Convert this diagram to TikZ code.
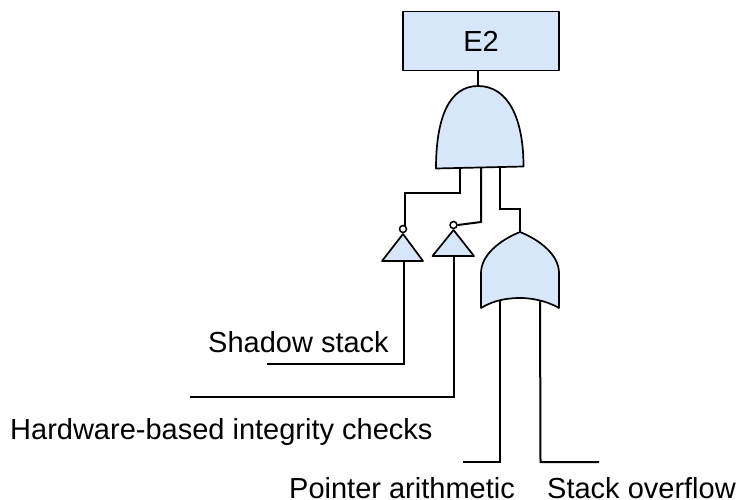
\documentclass[tikz,border=0pt]{standalone}
\usepackage{fontspec}
\setmainfont{Liberation Sans}
\definecolor{gatefill}{HTML}{D7E6FA}
\tikzset{
  gate/.style={draw=black,fill=gatefill,line width=1.7pt,line join=round},
  wire/.style={draw=black,line width=2pt},
  lbl/.style={font=\fontsize{29}{33}\selectfont,inner sep=0pt,anchor=base west,text=black},
  bubble/.style={circle,draw=black,fill=white,line width=1.5pt,minimum size=7pt,inner sep=0pt}
}
\begin{document}
\begin{tikzpicture}[x=1pt,y=-1pt]
\useasboundingbox (0,0) rectangle (738,500);
% top event
\node[gate,rectangle,minimum width=156pt,minimum height=59pt,inner sep=0pt,font=\fontsize{29}{33}\selectfont] (e2) at (481,41) {\raisebox{-1.5pt}{E2}};
% coordinates
\coordinate (andtop) at (478,86);
\coordinate (p1) at (460,167);
\coordinate (p2) at (481,167);
\coordinate (p3) at (500,167);
\coordinate (ortop) at (520,232);
\coordinate (ora) at (500,298);
\coordinate (orb) at (540,298);
\coordinate (ea) at (463,462);
\coordinate (eb) at (599,462);
\coordinate (s1) at (267,364);
\coordinate (h1) at (190,397);
% wires under gates
\draw[wire] (e2.south -| andtop) -- (andtop);
\draw[wire] (ora) -- (500,462) -- (ea);
\draw[wire] (orb) -- (540.5,462) -- (eb);
% AND gate
\draw[gate] (436,168.5) .. controls (436,118) and (449,86) .. (478,86) .. controls (508,86) and (523.5,118) .. (523.5,166.5) -- cycle;
% OR gate
\draw[gate] (481,308) -- (481,273) .. controls (481,255) and (500,240) .. (520,232) .. controls (540,240) and (559,255) .. (559,273) -- (559,308) .. controls (545,300) and (530,298) .. (520,298) .. controls (508,298) and (494,300) .. (481,308) -- cycle;
% inverters
\draw[gate] (403,234) -- (423,261) -- (382,261) -- cycle;
\draw[gate] (453.5,230) -- (474,256) -- (432.5,256) -- cycle;
\node[bubble] (b1) at (403,229) {};
\node[bubble] (b2) at (453.5,225) {};
% wires from AND
\draw[wire] (p1) -- (460,193) -- (405,193) -- (405,226);
\draw[wire] (p2) -- (481,222) -- (b2.east);
\draw[wire] (p3) -- (500,208.5) -- (520,208.5) -- (ortop);
% wires to inverters
\draw[wire] (404,261) -- (404,364) -- (s1);
\draw[wire] (454,256) -- (454,397) -- (h1);
% labels
\node[lbl] (t1) at (208,352) {Shadow stack};
\node[lbl] (t2) at (10,439) {Hardware-based integrity checks};
\node[lbl] (t3) at (289,498.5) {Pointer arithmetic};
\node[lbl] (t4) at (547,498.5) {Stack overflow};
\end{tikzpicture}
\end{document}
